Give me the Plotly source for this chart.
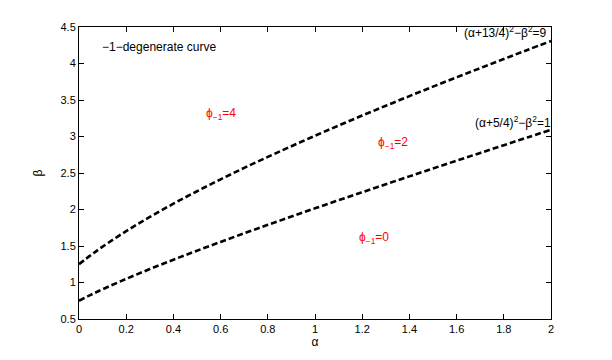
import plotly.graph_objects as go

# values
alpha = [0, 0.05, 0.1, 0.2, 0.3, 0.4, 0.5, 0.6, 0.7, 0.8, 0.9, 1.0,
         1.1, 1.2, 1.3, 1.4, 1.5, 1.6, 1.7, 1.8, 1.9, 2.0]
beta_upper = [1.25, 1.375, 1.491, 1.704, 1.898, 2.079, 2.25, 2.413, 2.570, 2.721, 2.867, 3.010,
              3.150, 3.287, 3.421, 3.553, 3.683, 3.811, 3.937, 4.062, 4.186, 4.308]
beta_lower = [0.75, 0.831, 0.907, 1.05, 1.184, 1.312, 1.436, 1.556, 1.674, 1.790, 1.903, 2.016,
              2.127, 2.237, 2.346, 2.454, 2.562, 2.669, 2.775, 2.881, 2.987, 3.092]

x_ticks = [0, 0.2, 0.4, 0.6, 0.8, 1, 1.2, 1.4, 1.6, 1.8, 2]
x_ticktext = ["0", "0.2", "0.4", "0.6", "0.8", "1", "1.2", "1.4", "1.6", "1.8", "2"]
y_ticks = [0.5, 1, 1.5, 2, 2.5, 3, 3.5, 4, 4.5]
y_ticktext = ["0.5", "1", "1.5", "2", "2.5", "3", "3.5", "4", "4.5"]

region_labels = ["ϕ<sub>−1</sub>=4", "ϕ<sub>−1</sub>=2", "ϕ<sub>−1</sub>=0"]
region_x = [0.60, 1.33, 1.25]
region_y = [3.31, 2.91, 1.61]

FONT = "Liberation Sans, Arial, sans-serif"

fig = go.Figure()
for ys in (beta_upper, beta_lower):
    fig.add_trace(go.Scatter(x=alpha, y=ys, mode="lines", line_shape="spline",
                             line=dict(color="black", width=2.6, dash="6px,3px"),
                             showlegend=False, hoverinfo="skip"))

for txt, xx, yy in zip(region_labels, region_x, region_y):
    fig.add_annotation(x=xx, y=yy, text=txt, showarrow=False,
                       font=dict(color="red", size=12, family=FONT))

fig.add_annotation(x=0.09, y=4.23, text="−1−degenerate curve", showarrow=False,
                   xanchor="left", font=dict(color="black", size=12, family=FONT))
fig.add_annotation(x=2.0, y=4.43, xshift=-2, text="(α+13/4)<sup>2</sup>−β<sup>2</sup>=9",
                   showarrow=False, xanchor="right",
                   font=dict(color="black", size=12, family=FONT))
fig.add_annotation(x=2.0, y=3.2, xshift=2, text="(α+5/4)<sup>2</sup>−β<sup>2</sup>=1",
                   showarrow=False, xanchor="right",
                   font=dict(color="black", size=12, family=FONT))

axis_style = dict(showgrid=False, zeroline=False, showline=True, linecolor="black",
                  linewidth=1, mirror="ticks", ticks="inside", ticklen=5,
                  tickcolor="black", tickfont=dict(size=11, family=FONT, color="black"))

fig.update_xaxes(range=[0, 2], tickvals=x_ticks, ticktext=x_ticktext,
                 title=dict(text="α", font=dict(size=12, family=FONT, color="black"), standoff=2),
                 **axis_style)
fig.update_yaxes(range=[0.5, 4.5], tickvals=y_ticks, ticktext=y_ticktext,
                 title=dict(text="β", font=dict(size=12, family=FONT, color="black"), standoff=15),
                 **axis_style)

# page body adds 8px offset, so margins are shifted to land the axes box at the reference spot
fig.update_layout(width=612, height=360, plot_bgcolor="white", paper_bgcolor="white",
                  margin=dict(l=71, r=69, t=19, b=49), font=dict(family=FONT, color="black"))

fig.write_html("out.html")
